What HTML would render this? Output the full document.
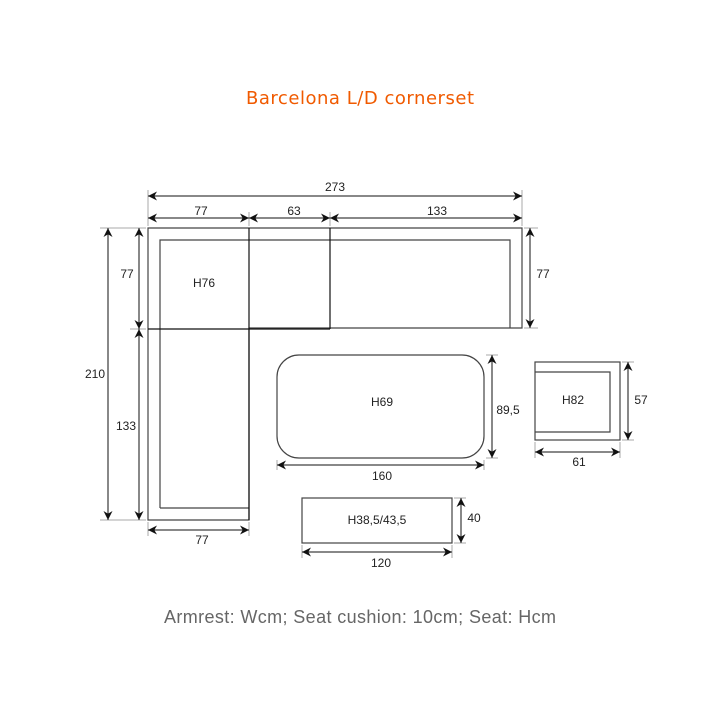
<!DOCTYPE html>
<html><head><meta charset="utf-8"><style>html,body{margin:0;padding:0;background:#fff}svg{display:block}</style></head>
<body>
<svg width="720" height="720" viewBox="0 0 720 720" xmlns="http://www.w3.org/2000/svg">
<defs>
<marker id="a" viewBox="0 0 10 10" refX="10" refY="5" markerWidth="12" markerHeight="9" markerUnits="userSpaceOnUse" orient="auto-start-reverse"><path d="M0,0 L10,5 L0,10 L3,5 z" fill="#111"/></marker>
</defs>
<rect width="720" height="720" fill="#fff"/>
<text x="360" y="104" text-anchor="middle" font-family="DejaVu Sans, sans-serif" font-size="18" fill="#f05a00" textLength="228">Barcelona L/D cornerset</text>

<g fill="none" stroke="#444" stroke-width="1.2">
<path d="M148,228 H522 V328 H249 V520 H148 Z"/>
<path d="M160,508 V240 H510 V328"/>
<path d="M160,508 H249"/>
<line x1="148" y1="329" x2="330" y2="329" stroke="#111"/>
<line x1="249" y1="228" x2="249" y2="520" stroke="#111"/>
<line x1="330" y1="228" x2="330" y2="329" stroke="#111"/>
<rect x="277" y="355" width="207" height="103" rx="22" ry="22"/>
<rect x="535" y="362" width="85" height="78"/>
<path d="M535,372 H610 V432 H535"/>
<rect x="302" y="498" width="150" height="45"/>
</g>

<g stroke="#aaa" stroke-width="1">
<line x1="148" y1="190" x2="148" y2="226"/>
<line x1="522" y1="190" x2="522" y2="226"/>
<line x1="249" y1="212" x2="249" y2="226"/>
<line x1="330" y1="212" x2="330" y2="226"/>
<line x1="100" y1="228" x2="146" y2="228"/>
<line x1="100" y1="520" x2="146" y2="520"/>
<line x1="130" y1="329" x2="146" y2="329"/>
<line x1="524" y1="228" x2="538" y2="228"/>
<line x1="524" y1="328" x2="538" y2="328"/>
<line x1="148" y1="522" x2="148" y2="536"/>
<line x1="249" y1="522" x2="249" y2="536"/>
<line x1="486" y1="355" x2="498" y2="355"/>
<line x1="486" y1="458" x2="498" y2="458"/>
<line x1="277" y1="460" x2="277" y2="470"/>
<line x1="484" y1="460" x2="484" y2="470"/>
<line x1="622" y1="362" x2="634" y2="362"/>
<line x1="622" y1="440" x2="634" y2="440"/>
<line x1="535" y1="442" x2="535" y2="458"/>
<line x1="620" y1="442" x2="620" y2="458"/>
<line x1="454" y1="498" x2="466" y2="498"/>
<line x1="454" y1="543" x2="466" y2="543"/>
<line x1="302" y1="545" x2="302" y2="558"/>
<line x1="452" y1="545" x2="452" y2="558"/>
</g>

<g stroke="#111" stroke-width="1" marker-start="url(#a)" marker-end="url(#a)">
<line x1="148" y1="196" x2="522" y2="196"/>
<line x1="148" y1="218" x2="249" y2="218"/>
<line x1="249" y1="218" x2="330" y2="218"/>
<line x1="330" y1="218" x2="522" y2="218"/>
<line x1="108" y1="228" x2="108" y2="520"/>
<line x1="139" y1="228" x2="139" y2="329"/>
<line x1="139" y1="329" x2="139" y2="520"/>
<line x1="530" y1="228" x2="530" y2="328"/>
<line x1="148" y1="530" x2="249" y2="530"/>
<line x1="492" y1="355" x2="492" y2="458"/>
<line x1="277" y1="465" x2="484" y2="465"/>
<line x1="628" y1="362" x2="628" y2="440"/>
<line x1="535" y1="452" x2="620" y2="452"/>
<line x1="461" y1="498" x2="461" y2="543"/>
<line x1="302" y1="552" x2="452" y2="552"/>
</g>

<g font-family="Liberation Sans, Arial, sans-serif" font-size="12" fill="#222" text-anchor="middle">
<text x="335" y="191">273</text>
<text x="201" y="215">77</text>
<text x="294" y="215">63</text>
<text x="437" y="215">133</text>
<text x="127" y="278">77</text>
<text x="95" y="378">210</text>
<text x="126" y="430">133</text>
<text x="543" y="278">77</text>
<text x="204" y="287">H76</text>
<text x="202" y="544">77</text>
<text x="382" y="406">H69</text>
<text x="508" y="414">89,5</text>
<text x="382" y="480">160</text>
<text x="573" y="404">H82</text>
<text x="641" y="404">57</text>
<text x="579" y="466">61</text>
<text x="377" y="524">H38,5/43,5</text>
<text x="474" y="522">40</text>
<text x="381" y="567">120</text>
</g>
<text x="360" y="623" text-anchor="middle" font-family="Liberation Sans, Arial, sans-serif" font-size="18" fill="#666" textLength="392">Armrest: Wcm; Seat cushion: 10cm; Seat: Hcm</text>
</svg>
</body></html>
